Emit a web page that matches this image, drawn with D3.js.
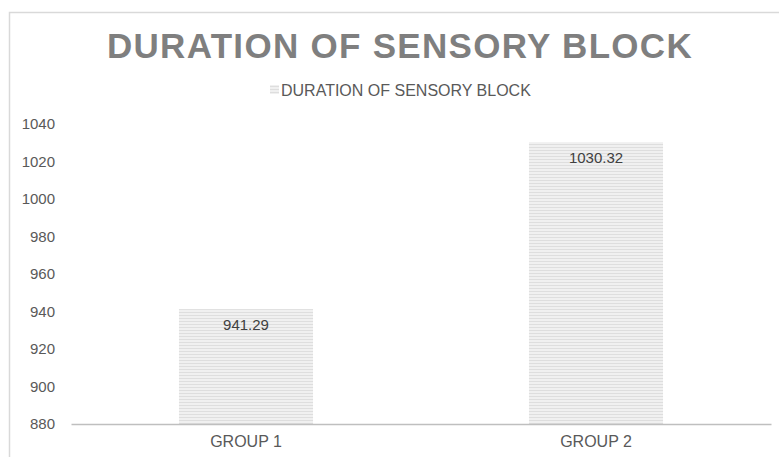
<!DOCTYPE html>
<html>
<head>
<meta charset="utf-8">
<script src="https://cdn.jsdelivr.net/npm/d3@7"></script>
<style>
  body { margin: 0; background: #fff; }
  text { font-family: "Liberation Sans", Arial, sans-serif; }
</style>
</head>
<body>
<div id="chart"></div>
<script>
// chart data
var categories = ["GROUP 1", "GROUP 2"];
var values = [941.29, 1030.32];
var yTicks = [880, 900, 920, 940, 960, 980, 1000, 1020, 1040];
var chartTitle = "DURATION OF SENSORY BLOCK";
var seriesName = "DURATION OF SENSORY BLOCK";

var svgWidth = 779;
var svgHeight = 457;

var margin = { top: 124, right: 8, bottom: 33, left: 71 };
var width = svgWidth - margin.left - margin.right;
var height = svgHeight - margin.top - margin.bottom;

var svg = d3.select("#chart")
  .append("svg")
  .attr("width", svgWidth)
  .attr("height", svgHeight);

// striped fill like the excel pattern
var defs = svg.append("defs");
var pat = defs.append("pattern")
  .attr("id", "stripes")
  .attr("patternUnits", "userSpaceOnUse")
  .attr("width", 6)
  .attr("height", 3);
pat.append("rect").attr("width", 6).attr("height", 3).attr("fill", "#f0f0f0");
pat.append("rect").attr("y", 2).attr("width", 6).attr("height", 1).attr("fill", "#dedede");

// chart frame (cut off on right and bottom)
svg.append("path")
  .attr("d", "M9.5," + (svgHeight + 2) + "V12.5H" + (svgWidth + 2))
  .attr("fill", "none")
  .attr("stroke", "#d9d9d9")
  .attr("stroke-width", 1.5);

var chartGroup = svg.append("g")
  .attr("transform", `translate(${margin.left}, ${margin.top})`);

var xBandScale = d3.scaleBand()
  .domain(categories)
  .range([0, width])
  .paddingInner(0.617)
  .paddingOuter(0.3085);

var yLinearScale = d3.scaleLinear()
  .domain([880, 1040])
  .range([height, 0]);

// y axis labels only
var leftAxis = d3.axisLeft(yLinearScale)
  .tickValues(yTicks)
  .tickFormat(d3.format("d"))
  .tickSize(0)
  .tickPadding(16);
var yAxisG = chartGroup.append("g").call(leftAxis);
yAxisG.select(".domain").remove();
yAxisG.selectAll("text")
  .attr("fill", "#595959")
  .style("font-size", "15px")
  .style("font-family", "Liberation Sans, Arial, sans-serif");

// bars
chartGroup.selectAll(".bar")
  .data(values)
  .enter()
  .append("rect")
  .attr("class", "bar")
  .attr("x", (d, i) => xBandScale(categories[i]))
  .attr("width", xBandScale.bandwidth())
  .attr("y", d => yLinearScale(d))
  .attr("height", d => height - yLinearScale(d))
  .attr("fill", "url(#stripes)");

// bar value labels
chartGroup.selectAll(".vlabel")
  .data(values)
  .enter()
  .append("text")
  .attr("class", "vlabel")
  .attr("x", (d, i) => xBandScale(categories[i]) + xBandScale.bandwidth() / 2)
  .attr("y", d => yLinearScale(d) + 21)
  .attr("text-anchor", "middle")
  .attr("fill", "#404040")
  .style("font-size", "15px")
  .text(d => d.toFixed(2));

// x axis
var bottomAxis = d3.axisBottom(xBandScale).tickSize(0).tickPadding(12);
var xAxisG = chartGroup.append("g")
  .attr("transform", `translate(0, ${height})`)
  .call(bottomAxis);
xAxisG.select(".domain")
  .attr("stroke", "#bfbfbf")
  .attr("stroke-width", 1.5);
xAxisG.selectAll("text")
  .attr("fill", "#595959")
  .style("font-size", "16px")
  .style("font-family", "Liberation Sans, Arial, sans-serif");

// title
svg.append("text")
  .attr("x", 400)
  .attr("y", 58)
  .attr("text-anchor", "middle")
  .attr("fill", "#7f7f7f")
  .style("font-size", "35px")
  .style("font-weight", "bold")
  .style("letter-spacing", "1.3px")
  .text(chartTitle);

// legend
var legend = svg.append("g");
legend.append("rect")
  .attr("x", 270)
  .attr("y", 85)
  .attr("width", 9)
  .attr("height", 9)
  .attr("fill", "url(#stripes)");
legend.append("text")
  .attr("x", 281)
  .attr("y", 96)
  .attr("fill", "#595959")
  .style("font-size", "16px")
  .text(seriesName);
</script>
</body>
</html>
